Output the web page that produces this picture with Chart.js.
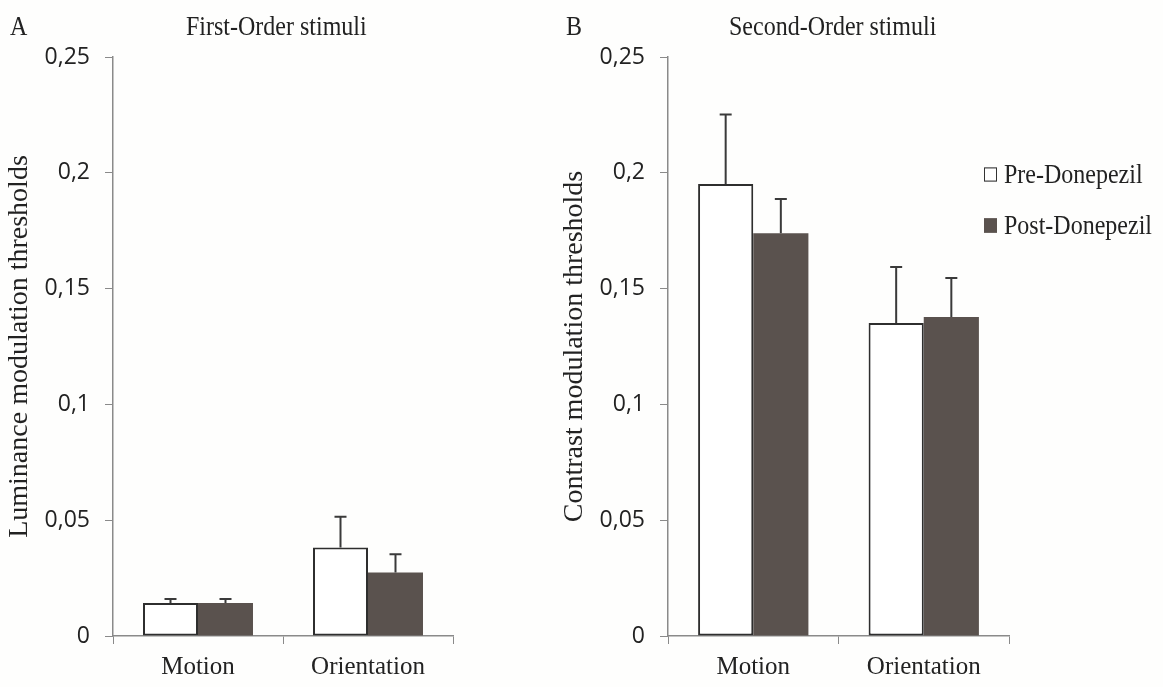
<!DOCTYPE html>
<html>
<head>
<meta charset="utf-8">
<script src="https://cdn.jsdelivr.net/npm/chart.js@4.4.1/dist/chart.umd.min.js"></script>
<style>
  body { margin: 0; background: #fefefd; }
  #wrap { position: relative; width: 1163px; height: 687px; overflow: hidden; }
  canvas { position: absolute; top: 0; }
  .txt { position: absolute; font-family: "Liberation Serif", "Times New Roman", serif; color: #222; font-size: 24px; line-height: 1; white-space: nowrap; transform: scaleY(1.15); transform-origin: top left; }
  .legend-row { position: absolute; left: 984px; display: flex; align-items: center; font-family: "Liberation Serif", serif; font-size: 24px; color: #222; transform: scaleY(1.1); transform-origin: left center; }
  .legend-row span.box { width: 11px; height: 11px; margin-right: 7px; border: 1.5px solid #333; }
</style>
</head>
<body>
<div id="wrap">
  <canvas id="chart-a" width="560" height="687" style="left:0"></canvas>
  <canvas id="chart-b" width="608" height="687" style="left:555px"></canvas>
  <div class="txt" style="left:10px; top:12px;">A</div>
  <div class="txt" style="left:186px; top:12px;">First-Order stimuli</div>
  <div class="txt" style="left:566px; top:12px;">B</div>
  <div class="txt" style="left:729px; top:12px;">Second-Order stimuli</div>
  <div id="legend"></div>
</div>
<script>
// data
const categories = ['Motion', 'Orientation'];
const seriesNames = ['Pre-Donepezil', 'Post-Donepezil'];

const firstPre = [0.0143, 0.0382];
const firstPost = [0.0143, 0.0274];
const firstPreErr = [0.0017, 0.0133];
const firstPostErr = [0.0017, 0.0079];

const secondPre = [0.1952, 0.1351];
const secondPost = [0.1739, 0.1377];
const secondPreErr = [0.030, 0.0242];
const secondPostErr = [0.0148, 0.0169];

const yMax = 0.25;
const yStep = 0.05;

const preFill = '#ffffff';
const postFill = '#5a524e';
const axisColor = '#8a8a8a';

// draw upper error bars on top of each bar
const errorBars = {
  id: 'errorBars',
  afterDatasetsDraw(chart) {
    const ctx = chart.ctx;
    const yScale = chart.scales.y;
    ctx.save();
    ctx.strokeStyle = '#3a3a3a';
    ctx.lineWidth = 2;
    chart.data.datasets.forEach((ds, i) => {
      const meta = chart.getDatasetMeta(i);
      meta.data.forEach((bar, j) => {
        const top = yScale.getPixelForValue(ds.data[j] + ds.errors[j]);
        ctx.beginPath();
        ctx.moveTo(bar.x, bar.y);
        ctx.lineTo(bar.x, top);
        ctx.moveTo(bar.x - 6, top);
        ctx.lineTo(bar.x + 6, top);
        ctx.stroke();
      });
    });
    ctx.restore();
  }
};

function makeChart(id, pre, post, preErr, postErr, yTitle, rightPad) {
  const ctx = document.getElementById(id).getContext('2d');
  return new Chart(ctx, {
    type: 'bar',
    data: {
      labels: categories,
      datasets: [
        {
          label: seriesNames[0],
          data: pre,
          errors: preErr,
          backgroundColor: preFill,
          borderColor: '#2e2e2e',
          borderWidth: 2,
          borderSkipped: false
        },
        {
          label: seriesNames[1],
          data: post,
          errors: postErr,
          backgroundColor: postFill,
          borderColor: postFill,
          borderWidth: 0
        }
      ]
    },
    options: {
      responsive: false,
      animation: false,
      devicePixelRatio: 1,
      layout: { padding: { top: 57, right: rightPad, bottom: 0, left: 0 } },
      datasets: { bar: { barPercentage: 1, categoryPercentage: 0.647 } },
      plugins: { legend: { display: false }, tooltip: { enabled: false } },
      scales: {
        x: {
          grid: { drawOnChartArea: false, drawTicks: true, tickLength: 8, color: axisColor, offset: true },
          border: { color: axisColor, width: 1.5 },
          ticks: { color: '#222', padding: 8, font: { family: 'Liberation Serif', size: 25 } },
          afterFit: s => { s.height = 51; }
        },
        y: {
          min: 0,
          max: yMax,
          grid: { drawOnChartArea: false, drawTicks: true, tickLength: 8, color: axisColor },
          border: { color: axisColor, width: 1.5 },
          ticks: {
            stepSize: yStep,
            color: '#222',
            padding: 15,
            font: { family: 'Open Sans', size: 23 },
            callback: v => String(+v.toFixed(2)).replace('.', ',')
          },
          title: {
            display: true,
            text: yTitle,
            color: '#222',
            padding: { top: 3, bottom: 0 },
            font: { family: 'Liberation Serif', size: 28, weight: 'normal' }
          },
          afterFit: s => { s.width = 113; }
        }
      }
    },
    plugins: [errorBars]
  });
}

makeChart('chart-a', firstPre, firstPost, firstPreErr, firstPostErr, 'Luminance modulation thresholds', 107);
makeChart('chart-b', secondPre, secondPost, secondPreErr, secondPostErr, 'Contrast modulation thresholds', 154);

// legend built from the series names
const legend = document.getElementById('legend');
[preFill, postFill].forEach((fill, i) => {
  const row = document.createElement('div');
  row.className = 'legend-row';
  row.style.top = (161 + i * 51) + 'px';
  row.innerHTML = `<span class="box" style="background:${fill}; border-color:${i ? fill : '#333'}"></span>${seriesNames[i]}`;
  legend.appendChild(row);
});
</script>
</body>
</html>
